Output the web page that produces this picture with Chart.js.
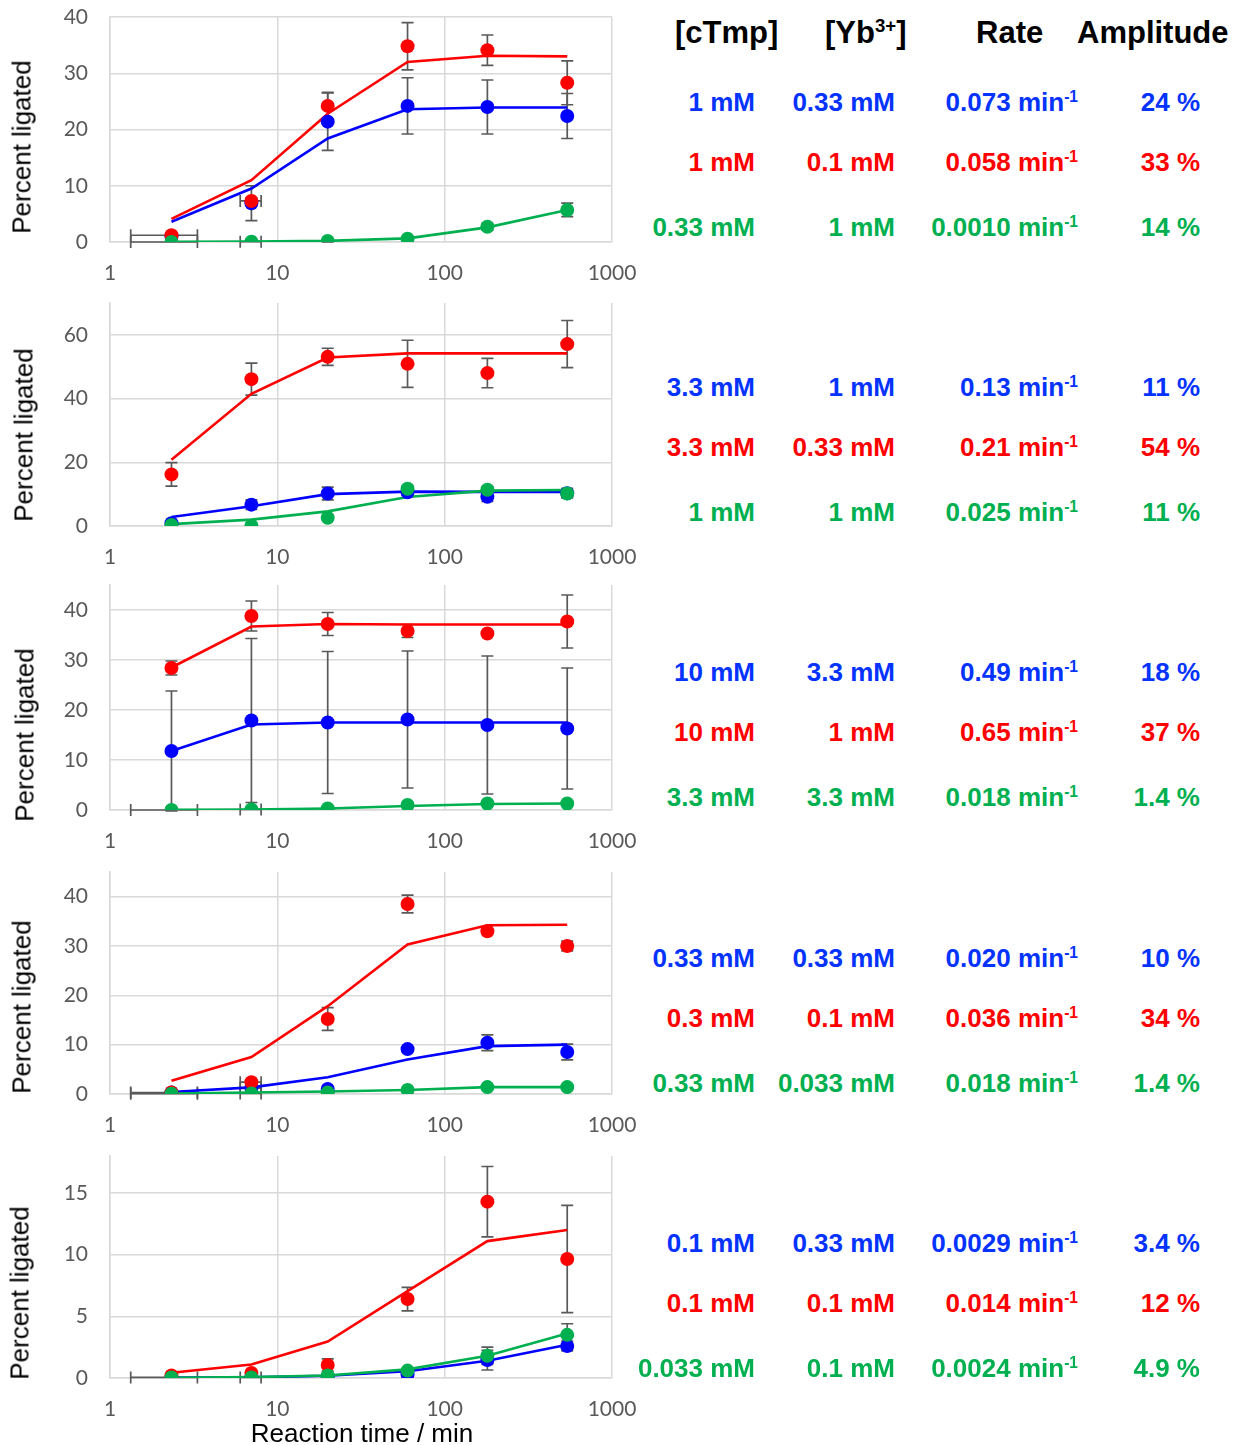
<!DOCTYPE html>
<html>
<head>
<meta charset="utf-8">
<script src="https://cdn.jsdelivr.net/npm/chart.js@4.4.1/dist/chart.umd.min.js"></script>
<style>
  html, body { margin:0; padding:0; background:#fff; }
  body { width:1247px; height:1445px; position:relative; overflow:hidden; font-family:"Liberation Sans", Arial, sans-serif; }
  .panel { position:absolute; left:0; width:640px; }
  .ytitle { position:absolute; font-size:26px; color:#000; white-space:nowrap; transform:translate(-50%,-50%) rotate(-90deg); }
  .xtitle { position:absolute; font-size:26px; color:#000; white-space:nowrap; transform:translate(-50%,-50%); }
  .hdr { position:absolute; font-weight:bold; font-size:31px; line-height:36px; color:#000; white-space:nowrap; }
  .cell { position:absolute; font-weight:bold; font-size:26px; line-height:30px; white-space:nowrap; text-align:right; }
  sup { font-size:0.6em; vertical-align:0.6em; line-height:0; }
</style>
</head>
<body>
<script>
// ---------------- DATA ----------------
const times = [2.33, 7, 20, 60, 180, 540];
const xTicks = [1, 10, 100, 1000];

// Panel 1
const p1BlueY   = [1.0, 6.9, 21.4, 24.2, 24.0, 22.4];
const p1BlueErr = [0, 3.1, 5.1, 5.0, 4.8, 4.0];
const p1BlueFit = [3.6, 9.5, 18.4, 23.6, 23.9, 23.9];
const p1RedY    = [1.2, 7.3, 24.2, 34.8, 34.1, 28.3];
const p1RedErr  = [0, 0.5, 2.4, 4.2, 2.7, 3.9];
const p1RedFit  = [4.1, 11.0, 22.8, 32.0, 33.1, 33.0];
const p1GreenY   = [0, 0.05, 0.2, 0.6, 2.7, 5.7];
const p1GreenErr = [0, 0, 0.2, 0.2, 0.6, 1.2];
const p1GreenFit = [0.02, 0.07, 0.2, 0.65, 2.6, 5.7];
const p1RedXErr   = [1, 1, 0, 0, 0, 0];
const p1GreenXErr = [1, 1, 0, 0, 0, 0];
const p1YTicks = [0, 10, 20, 30, 40];

// Panel 2
const p2BlueY   = [0.9, 6.7, 10.2, 10.6, 9.2, 10.3];
const p2BlueErr = [0.3, 1.5, 2.0, 1.0, 1.5, 1.5];
const p2BlueFit = [2.8, 6.2, 10.0, 10.8, 10.7, 10.7];
const p2RedY    = [16.2, 46.1, 53.1, 50.9, 48.0, 57.1];
const p2RedErr  = [3.7, 5.0, 2.7, 7.4, 4.6, 7.4];
const p2RedFit  = [20.8, 41.5, 52.9, 54.2, 54.2, 54.2];
const p2GreenY   = [0.3, 0.1, 2.6, 11.7, 11.4, 10.2];
const p2GreenErr = [0, 0, 0.5, 1.0, 1.0, 1.0];
const p2GreenFit = [0.6, 2.0, 4.6, 9.1, 11.1, 11.3];
const p2YTicks = [0, 20, 40, 60];

// Panel 3
const p3BlueY   = [11.8, 17.9, 17.5, 18.1, 17.0, 16.3];
const p3BlueErr = [12.0, 16.4, 14.2, 13.7, 13.8, 12.1];
const p3BlueFit = [11.8, 17.1, 17.5, 17.5, 17.5, 17.5];
const p3RedY    = [28.4, 38.8, 37.2, 35.8, 35.3, 37.7];
const p3RedErr  = [1.4, 3.0, 2.3, 1.3, 0.3, 5.3];
const p3RedFit  = [28.5, 36.7, 37.2, 37.1, 37.1, 37.1];
const p3GreenY   = [0, 0.1, 0.3, 1.0, 1.3, 1.3];
const p3GreenErr = [0, 0, 0, 0, 0, 0];
const p3GreenFit = [0.03, 0.1, 0.3, 0.8, 1.2, 1.3];
const p3GreenXErr = [1, 1, 0, 0, 0, 0];
const p3YTicks = [0, 10, 20, 30, 40];

// Panel 4
const p4BlueY   = [0.3, 1.2, 1.0, 9.1, 10.4, 8.5];
const p4BlueErr = [0, 0, 0.3, 0.4, 1.6, 1.6];
const p4BlueFit = [0.4, 1.35, 3.4, 7.0, 9.7, 10.0];
const p4RedY    = [0.3, 2.4, 15.2, 38.5, 33.0, 30.0];
const p4RedErr  = [0, 0.3, 2.3, 1.8, 0.3, 1.0];
const p4RedFit  = [2.7, 7.5, 17.8, 30.3, 34.2, 34.3];
const p4GreenY   = [0.05, 0.1, 0.3, 0.8, 1.4, 1.4];
const p4GreenErr = [0, 0, 0, 0, 0, 0];
const p4GreenFit = [0.1, 0.3, 0.5, 0.8, 1.4, 1.4];
const p4BlueXErr  = [1, 1, 0, 0, 0, 0];
const p4RedXErr   = [0, 1, 0, 0, 0, 0];
const p4GreenXErr = [1, 1, 0, 0, 0, 0];
const p4YTicks = [0, 10, 20, 30, 40];

// Panel 5
const p5BlueY   = [0, 0.05, 0, 0.3, 1.45, 2.6];
const p5BlueErr = [0, 0, 0, 0, 0.8, 0.4];
const p5BlueFit = [0.01, 0.05, 0.18, 0.55, 1.4, 2.7];
const p5RedY    = [0.2, 0.4, 1.05, 6.4, 14.3, 9.65];
const p5RedErr  = [0, 0, 0.5, 0.95, 2.85, 4.35];
const p5RedFit  = [0.43, 1.1, 2.95, 7.05, 11.1, 12.0];
const p5GreenY   = [0.05, 0.05, 0.2, 0.6, 1.8, 3.5];
const p5GreenErr = [0, 0, 0, 0, 0.7, 0.9];
const p5GreenFit = [0.02, 0.07, 0.2, 0.7, 1.8, 3.6];
const p5GreenXErr = [1, 1, 0, 0, 0, 0];
const p5YTicks = [0, 5, 10, 15];

// Table text
const headers = ["[cTmp]", "[Yb<sup>3+</sup>]", "Rate", "Amplitude"];
const cTmp = [["1 mM","1 mM","0.33 mM"],["3.3 mM","3.3 mM","1 mM"],["10 mM","10 mM","3.3 mM"],["0.33 mM","0.3 mM","0.33 mM"],["0.1 mM","0.1 mM","0.033 mM"]];
const ybConc = [["0.33 mM","0.1 mM","1 mM"],["1 mM","0.33 mM","1 mM"],["3.3 mM","1 mM","3.3 mM"],["0.33 mM","0.1 mM","0.033 mM"],["0.33 mM","0.1 mM","0.1 mM"]];
const rates = [["0.073","0.058","0.0010"],["0.13","0.21","0.025"],["0.49","0.65","0.018"],["0.020","0.036","0.018"],["0.0029","0.014","0.0024"]];
const amps = [["24 %","33 %","14 %"],["11 %","54 %","11 %"],["18 %","37 %","1.4 %"],["10 %","34 %","1.4 %"],["3.4 %","12 %","4.9 %"]];

// ---------------- STYLE / LAYOUT ----------------
const BLUE = '#0000ff', RED = '#ff0000', GREEN = '#00b050';
const TXT_COLORS = ['#0433ff', '#ff0000', '#00b050'];
const GRID = '#d9d9d9';
const panelTops = [0, 284, 568, 852, 1136];
const topPads = [17, 19, 17, 20, 20];
const yMaxes = [40, 70, 45, 45, 18];
const ytitleX = [22, 24, 25, 22, 20];
const ytitleY = [147, 151, 167, 155, 157];
const rowOffsets = [102, 162, 227];
const colRight = [755, 895, 1078, 1200];

const panels = [
  {blue:[p1BlueY,p1BlueErr,p1BlueFit,null], red:[p1RedY,p1RedErr,p1RedFit,p1RedXErr], green:[p1GreenY,p1GreenErr,p1GreenFit,p1GreenXErr], yt:p1YTicks},
  {blue:[p2BlueY,p2BlueErr,p2BlueFit,null], red:[p2RedY,p2RedErr,p2RedFit,null], green:[p2GreenY,p2GreenErr,p2GreenFit,null], yt:p2YTicks},
  {blue:[p3BlueY,p3BlueErr,p3BlueFit,null], red:[p3RedY,p3RedErr,p3RedFit,null], green:[p3GreenY,p3GreenErr,p3GreenFit,p3GreenXErr], yt:p3YTicks},
  {blue:[p4BlueY,p4BlueErr,p4BlueFit,p4BlueXErr], red:[p4RedY,p4RedErr,p4RedFit,p4RedXErr], green:[p4GreenY,p4GreenErr,p4GreenFit,p4GreenXErr], yt:p4YTicks},
  {blue:[p5BlueY,p5BlueErr,p5BlueFit,null], red:[p5RedY,p5RedErr,p5RedFit,null], green:[p5GreenY,p5GreenErr,p5GreenFit,p5GreenXErr], yt:p5YTicks}
];

const errorBars = {
  id: 'errorBars',
  beforeDatasetsDraw(chart) {
    const ctx = chart.ctx, xs = chart.scales.x, ys = chart.scales.y;
    ctx.save();
    ctx.strokeStyle = '#595959';
    ctx.lineWidth = 1.7;
    const cap = 6;
    chart.data.datasets.forEach(ds => {
      if (!ds.yErr && !ds.xErr) return;
      ds.data.forEach((p, i) => {
        const px = xs.getPixelForValue(p.x), py = ys.getPixelForValue(p.y);
        const e = ds.yErr ? ds.yErr[i] : 0;
        if (e > 0) {
          const t = ys.getPixelForValue(p.y + e), b = ys.getPixelForValue(p.y - e);
          ctx.beginPath();
          ctx.moveTo(px, t); ctx.lineTo(px, b);
          ctx.moveTo(px - cap, t); ctx.lineTo(px + cap, t);
          ctx.moveTo(px - cap, b); ctx.lineTo(px + cap, b);
          ctx.stroke();
        }
        const xe = ds.xErr ? ds.xErr[i] : 0;
        if (xe > 0) {
          const l = xs.getPixelForValue(p.x - xe), r = xs.getPixelForValue(p.x + xe);
          ctx.beginPath();
          ctx.moveTo(l, py); ctx.lineTo(r, py);
          ctx.moveTo(l, py - cap); ctx.lineTo(l, py + cap);
          ctx.moveTo(r, py - cap); ctx.lineTo(r, py + cap);
          ctx.stroke();
        }
      });
    });
    ctx.restore();
  }
};

function pts(ys) { return times.map((t, i) => ({x: t, y: ys[i]})); }

const tickFont = {family: 'Lato, "Open Sans", sans-serif', size: 21};

panels.forEach((pn, k) => {
  const div = document.createElement('div');
  div.className = 'panel';
  const h = k === 4 ? 309 : 284;
  div.style.top = panelTops[k] + 'px';
  div.style.height = h + 'px';
  const cv = document.createElement('canvas');
  cv.width = 640; cv.height = h;
  cv.style.width = '640px'; cv.style.height = h + 'px';
  div.appendChild(cv);
  document.body.appendChild(div);

  const series = [['blue', BLUE, 3, 13], ['red', RED, 2, 12], ['green', GREEN, 1, 11]];
  const datasets = [];
  series.forEach(([key, col, ordP, ordL]) => {
    const [ys, err, fit, xerr] = pn[key];
    datasets.push({type:'line', data: pts(fit), borderColor: col, borderWidth: 2.6, pointRadius: 0, fill: false, tension: 0, order: ordL});
    datasets.push({type:'scatter', data: pts(ys), backgroundColor: col, borderColor: col, borderWidth: 0, pointRadius: 7, showLine: false, order: ordP, yErr: err, xErr: xerr});
  });

  new Chart(cv, {
    data: { datasets },
    options: {
      responsive: false, animation: false, devicePixelRatio: 1,
      layout: { padding: 0, autoPadding: false },
      plugins: { legend: { display: false }, tooltip: { enabled: false } },
      scales: {
        x: {
          type: 'logarithmic', min: 1, max: 1000,
          afterBuildTicks: s => { s.ticks = xTicks.map(v => ({value: v})); },
          afterFit: s => { s.height = k === 4 ? 67 : 42; s.paddingRight = 28; s.paddingLeft = 0; },
          ticks: { callback: v => String(v), font: tickFont, color: '#595959', padding: 19, maxRotation: 0, autoSkip: false },
          grid: { color: GRID, lineWidth: 1.5, drawTicks: false },
          border: { color: GRID, width: 1.5 }
        },
        y: {
          type: 'linear', min: 0, max: yMaxes[k],
          afterBuildTicks: s => { s.ticks = pn.yt.map(v => ({value: v})); },
          afterFit: s => { s.width = 110; s.paddingTop = topPads[k]; s.paddingBottom = 0; },
          ticks: { callback: v => String(v), font: tickFont, color: '#595959', padding: 22 },
          grid: { color: GRID, lineWidth: 1.5, drawTicks: false },
          border: { color: GRID, width: 1.5 }
        }
      }
    },
    plugins: [errorBars]
  });

  // y title
  const yt = document.createElement('div');
  yt.className = 'ytitle';
  yt.textContent = 'Percent ligated';
  yt.style.left = ytitleX[k] + 'px';
  yt.style.top = (panelTops[k] + ytitleY[k]) + 'px';
  document.body.appendChild(yt);

  // table rows
  for (let r = 0; r < 3; r++) {
    const cy = panelTops[k] + rowOffsets[r] + k * 1.2;
    const vals = [cTmp[k][r], ybConc[k][r], rates[k][r] + ' min<sup>-1</sup>', amps[k][r]];
    vals.forEach((v, c) => {
      const d = document.createElement('div');
      d.className = 'cell';
      d.innerHTML = v;
      d.style.color = TXT_COLORS[r];
      d.style.right = (1247 - colRight[c]) + 'px';
      d.style.top = (cy - 15) + 'px';
      document.body.appendChild(d);
    });
  }
});

// x title
const xt = document.createElement('div');
xt.className = 'xtitle';
xt.textContent = 'Reaction time / min';
xt.style.left = '362px';
xt.style.top = '1433px';
document.body.appendChild(xt);

// headers
const hdrLeft = [675, 825, 976, 1077];
headers.forEach((hTxt, i) => {
  const d = document.createElement('div');
  d.className = 'hdr';
  d.innerHTML = hTxt;
  d.style.left = hdrLeft[i] + 'px';
  d.style.top = (33 - 18) + 'px';
  document.body.appendChild(d);
});
</script>
</body>
</html>
